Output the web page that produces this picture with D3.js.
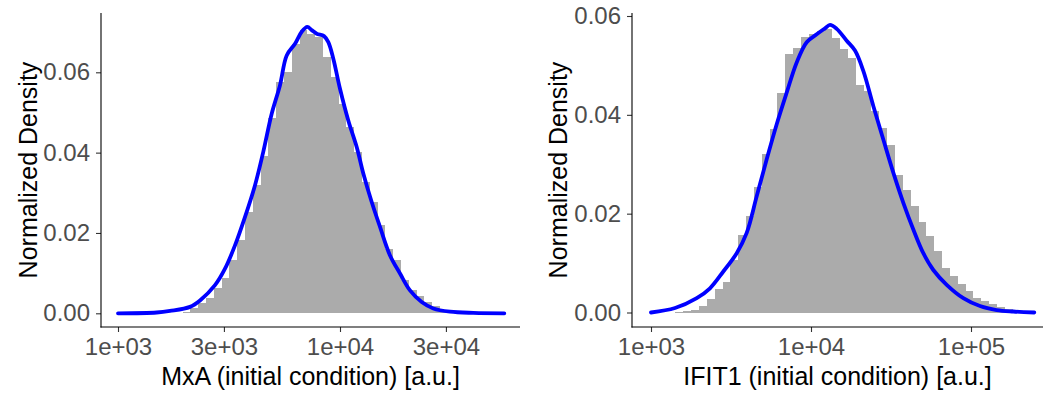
<!DOCTYPE html>
<html>
<head>
<meta charset="utf-8">
<script src="https://cdn.jsdelivr.net/npm/d3@7"></script>
<style>
  body { margin: 0; background: #ffffff; }
  svg { display: block; }
  text { font-family: "Liberation Sans", Arial, Helvetica, sans-serif; }
</style>
</head>
<body>
<svg id="chart" width="1046" height="393"></svg>
<script>
// ---- MxA: histogram (log10 bins) and density curve ----
const mxaBinStart = 3.291;      // log10 of the first bin's lower edge
const mxaBinWidth = 0.03514;    // bin width in log10 units
const mxaHist = [0.0004, 0.0012, 0.0025, 0.0039, 0.0064, 0.0088, 0.0132, 0.0183, 0.0252,
  0.0319, 0.0392, 0.0486, 0.0576, 0.0601, 0.0671, 0.0705, 0.0695, 0.0688, 0.0638, 0.0588,
  0.0522, 0.0464, 0.0402, 0.0327, 0.0277, 0.0219, 0.0161, 0.0132, 0.0082, 0.0058, 0.0043,
  0.0028, 0.0017, 0.0008, 0.0004];
const mxaCurveX = [1000, 1494, 1715, 2110, 2341, 2735, 3034, 3365, 3734, 4142, 4512, 4924,
  5367, 5753, 6271, 6722, 7123, 7457, 7853, 8472, 8858, 9329, 10000, 10898, 11891, 12735,
  13893, 15144, 16800, 18636, 20670, 23335, 26325, 31300, 39860, 54970];
const mxaCurveY = [0, 0.0002, 0.0006, 0.0016, 0.0032, 0.0070, 0.0111, 0.0169, 0.0240, 0.0319,
  0.0402, 0.0497, 0.0568, 0.0642, 0.0671, 0.0701, 0.0713, 0.0705, 0.0696, 0.0690, 0.0675,
  0.0634, 0.0559, 0.0480, 0.0414, 0.0348, 0.0277, 0.0215, 0.0144, 0.0099, 0.0057, 0.0028,
  0.0012, 0.0004, 0.0001, 0];
const mxaTicks = [1e3, 3e3, 1e4, 3e4];
const mxaTickLabels = ["1e+03", "3e+03", "1e+04", "3e+04"];

// ---- IFIT1: histogram (log10 bins) and density curve ----
const ifitBinStart = 3.1531;
const ifitBinWidth = 0.0490;
const ifitHist = [0.0001, 0.0003, 0.0005, 0.0014, 0.0028, 0.0047, 0.0062, 0.0107, 0.0157,
  0.0195, 0.0253, 0.0320, 0.0371, 0.0445, 0.0523, 0.0536, 0.0557, 0.0563, 0.0570, 0.0574,
  0.0555, 0.0533, 0.0516, 0.0460, 0.0448, 0.0408, 0.0374, 0.0339, 0.0278, 0.0247, 0.0215,
  0.0183, 0.0154, 0.0125, 0.0090, 0.0073, 0.0057, 0.0044, 0.0029, 0.0023, 0.0017, 0.0012,
  0.0008, 0.0004, 0.0002];
const ifitCurveX = [1000, 1413, 1931, 2337, 2831, 3433, 3964, 4577, 5286, 6104, 7049, 8140,
  9400, 10855, 12232, 13147, 14475, 16716, 18836, 21230, 24513, 28310, 32690, 37760, 43600,
  50350, 58140, 70490, 89530, 113800, 144700, 183800, 248700];
const ifitCurveY = [0, 0.0009, 0.0029, 0.0049, 0.0083, 0.0120, 0.0161, 0.0235, 0.0310, 0.0381,
  0.0445, 0.0506, 0.0547, 0.0563, 0.0575, 0.0582, 0.0574, 0.0550, 0.0530, 0.0489, 0.0418,
  0.0350, 0.0283, 0.0222, 0.0168, 0.0120, 0.0086, 0.0056, 0.0029, 0.0013, 0.0005, 0.0002, 0];
const ifitTicks = [1e3, 1e4, 1e5];
const ifitTickLabels = ["1e+03", "1e+04", "1e+05"];

// ---- shared y axis ----
const yTicks = [0, 0.02, 0.04, 0.06];
const yTickLabels = ["0.00", "0.02", "0.04", "0.06"];
const yTitle = "Normalized Density";

const svg = d3.select("#chart");

function drawPanel(p) {
  const xs = d3.scaleLog().domain(p.xDomain).range(p.xRange);
  const ys = d3.scaleLinear().domain([0, 0.06]).range(p.yRange);
  const g = svg.append("g");
  const edge = i => xs(Math.pow(10, p.binStart + i * p.binWidth));

  // histogram bars
  g.append("g")
    .attr("shape-rendering", "crispEdges")
    .selectAll("rect")
    .data(p.hist)
    .join("rect")
    .attr("x", (d, i) => Math.round(edge(i)))
    .attr("width", (d, i) => Math.round(edge(i + 1)) - Math.round(edge(i)))
    .attr("y", d => ys(d))
    .attr("height", d => ys(0) - ys(d))
    .attr("fill", "#ABABAB");

  // density curve
  const pts = p.curveX.map((x, i) => [x, p.curveY[i]]);
  g.append("path")
    .datum(pts)
    .attr("fill", "none")
    .attr("stroke", "#0000FF")
    .attr("stroke-width", 3.8)
    .attr("stroke-linejoin", "round")
    .attr("stroke-linecap", "round")
    .attr("d", d3.line().x(d => xs(d[0])).y(d => ys(d[1])).curve(d3.curveCatmullRom.alpha(0.5)));

  // y axis
  const ya = g.append("g")
    .attr("transform", `translate(${p.left},0)`)
    .call(d3.axisLeft(ys).tickValues(yTicks).tickFormat((d, i) => yTickLabels[i])
      .tickSize(5).tickPadding(6));
  // x axis
  const xa = g.append("g")
    .attr("transform", `translate(0,${p.bottom})`)
    .call(d3.axisBottom(xs).tickValues(p.ticks).tickFormat((d, i) => p.tickLabels[i])
      .tickSize(5).tickPadding(6));

  [ya, xa].forEach(a => {
    a.select(".domain").remove();
    a.selectAll(".tick line").attr("stroke", "#333333").attr("stroke-width", 1.1);
    a.selectAll(".tick text").attr("fill", "#4D4D4D")
      .attr("font-size", 24)
      .attr("font-family", '"Liberation Sans", Arial, Helvetica, sans-serif');
  });

  // axis lines
  g.append("line").attr("x1", p.left).attr("x2", p.left)
    .attr("y1", p.top).attr("y2", p.bottom + 0.55)
    .attr("stroke", "#000").attr("stroke-width", 1.1);
  g.append("line").attr("x1", p.left - 0.55).attr("x2", p.right)
    .attr("y1", p.bottom).attr("y2", p.bottom)
    .attr("stroke", "#000").attr("stroke-width", 1.1);

  // titles
  g.append("text")
    .attr("x", (p.left + p.right) / 2)
    .attr("y", 385)
    .attr("text-anchor", "middle")
    .attr("font-size", 25)
    .attr("fill", "#000")
    .text(p.xTitle);
  g.append("text")
    .attr("transform", `translate(${p.yTitleX},${(p.top + p.bottom) / 2}) rotate(-90)`)
    .attr("text-anchor", "middle")
    .attr("font-size", 25)
    .attr("fill", "#000")
    .text(yTitle);
}

drawPanel({
  hist: mxaHist, binStart: mxaBinStart, binWidth: mxaBinWidth,
  curveX: mxaCurveX, curveY: mxaCurveY,
  ticks: mxaTicks, tickLabels: mxaTickLabels,
  xDomain: [1e3, 1e4], xRange: [118, 340], yRange: [313.3, 72.3],
  left: 101, right: 520, top: 13, bottom: 327, yTitleX: 37,
  xTitle: "MxA (initial condition) [a.u.]"
});

drawPanel({
  hist: ifitHist, binStart: ifitBinStart, binWidth: ifitBinWidth,
  curveX: ifitCurveX, curveY: ifitCurveY,
  ticks: ifitTicks, tickLabels: ifitTickLabels,
  xDomain: [1e3, 1e5], xRange: [651, 971], yRange: [312.5, 16],
  left: 632, right: 1043, top: 13, bottom: 327, yTitleX: 567,
  xTitle: "IFIT1 (initial condition) [a.u.]"
});
</script>
</body>
</html>
